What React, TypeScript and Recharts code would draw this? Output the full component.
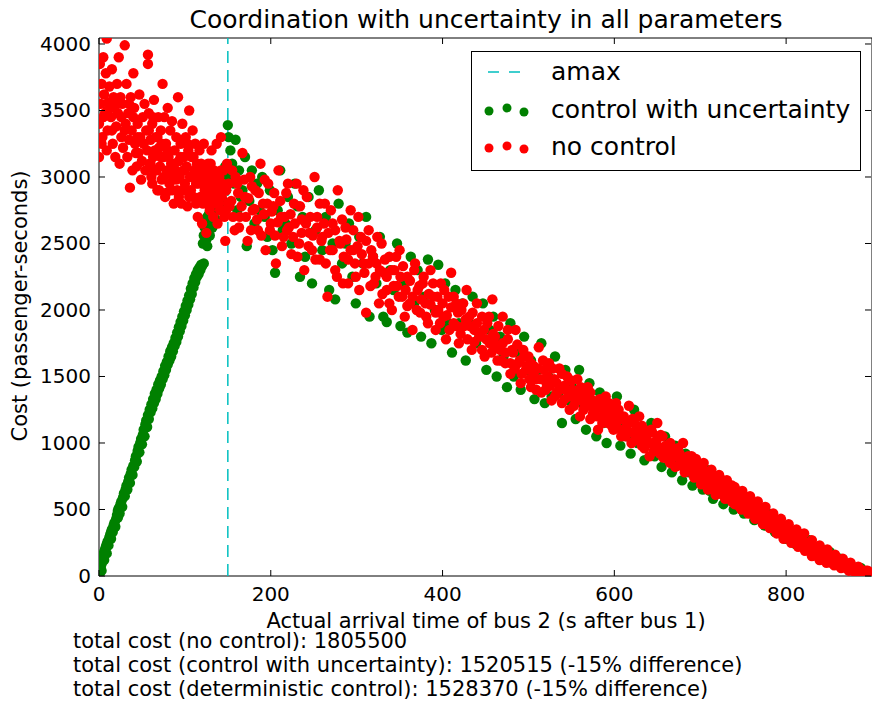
import React from 'react';
import { ScatterChart, Scatter, XAxis, YAxis, ReferenceLine, ReferenceArea } from 'recharts';

// plot box as it sits in the 872x704 picture
const W = 872;
const H = 704;
const PLOT = { left: 99, right: 872, top: 38, bottom: 576 };
const X_MAX = 900;
const Y_MAX = 4045;

const xTicks = [0, 200, 400, 600, 800];
const yTicks = [0, 500, 1000, 1500, 2000, 2500, 3000, 3500, 4000];
const amax = 150;

const totals = [
  'total cost (no control): 1805500',
  'total cost (control with uncertainty): 1520515 (-15% difference)',
  'total cost (deterministic control): 1528370 (-15% difference)',
];

// control with uncertainty: early buses held back (ramp), later ones follow the band
const controlRamp: [number, number][] = [
  [0, 0], [1, 30], [2, 60], [3, 90], [4, 130], [5, 160], [6, 180], [7, 200], [8, 220], [9, 240],
  [10, 260], [12, 290], [13, 310], [14, 330], [15, 350], [17, 380], [18, 400], [20, 430], [21, 460],
  [22, 490], [23, 510], [25, 540], [26, 560], [28, 590], [29, 620], [31, 650], [32, 680], [34, 710],
  [35, 740], [37, 770], [38, 800], [40, 830], [42, 870], [43, 900], [45, 940], [46, 970], [48, 1000],
  [49, 1030], [51, 1060], [52, 1100], [54, 1140], [55, 1170], [57, 1210], [59, 1250], [61, 1290],
  [63, 1330], [65, 1370], [67, 1400], [69, 1440], [71, 1470], [73, 1500], [75, 1540], [77, 1580],
  [79, 1610], [81, 1650], [83, 1690], [85, 1720], [87, 1750], [89, 1790], [91, 1830], [93, 1870],
  [95, 1910], [97, 1950], [99, 1990], [101, 2030], [103, 2070], [105, 2110], [107, 2160], [109, 2200],
  [111, 2240], [113, 2270], [115, 2300], [117, 2320], [119, 2340], [121, 2500], [122, 2560], [123, 2620],
  [124, 2680], [125, 2530], [127, 2600], [128, 2720], [130, 2650], [131, 2780], [133, 2700], [135, 2820],
  [137, 2880], [139, 2920], [141, 2960], [143, 3000], [145, 3040], [147, 3080],
  [3, 40], [6, 120], [9, 170], [11, 230], [14, 280], [16, 330], [19, 370], [22, 440], [24, 470],
  [27, 520], [30, 600], [33, 650], [36, 700], [39, 760], [41, 820], [44, 860], [47, 930], [50, 990],
  [53, 1050], [56, 1120], [58, 1180], [60, 1230], [62, 1260], [64, 1300], [66, 1330], [68, 1370],
  [70, 1410], [72, 1440], [74, 1480], [76, 1510], [78, 1550], [80, 1590], [82, 1620], [84, 1650],
  [86, 1690], [88, 1730], [90, 1760], [92, 1800], [94, 1840], [96, 1880], [98, 1920], [100, 1960],
  [102, 2000], [104, 2040], [106, 2080], [108, 2120], [110, 2170], [112, 2210], [114, 2250], [116, 2270],
  [118, 2300], [120, 2330], [122, 2350], [126, 2480], [126, 2700], [129, 2560], [132, 2620], [134, 2760],
  [136, 2680], [138, 2800], [140, 2760], [142, 2880], [144, 2820], [146, 2950], [148, 2900], [150, 3000],
];

const controlBand: [number, number][] = [
  [150, 3390], [151, 3300], [153, 3200], [155, 3100], [157, 2950], [159, 3280], [161, 2750], [163, 3050],
  [165, 2850], [167, 2900], [170, 3150], [172, 2480], [175, 2820], [178, 3050], [181, 2650], [184, 2950],
  [187, 2750], [190, 3000], [193, 2700], [196, 2550], [199, 2900], [202, 2450], [205, 2280], [208, 2750],
  [211, 3050], [214, 2600], [217, 2650], [220, 2850], [224, 2500], [228, 2950], [231, 2780], [234, 2250],
  [237, 2700], [240, 2400], [244, 2850], [248, 2200], [252, 2600], [256, 2900], [260, 2450], [264, 2700],
  [268, 2150], [272, 2500], [275, 2080], [279, 2800], [283, 2350], [287, 2500], [291, 2650], [295, 2250],
  [299, 2050], [303, 2550], [307, 2350], [311, 2700], [315, 1950], [319, 2400], [323, 2200], [327, 2550],
  [331, 1950], [335, 1910], [339, 2300], [343, 2150], [347, 2500], [351, 1880], [355, 2200], [359, 1830],
  [363, 2400], [367, 2050], [371, 2300], [375, 1800], [379, 2100], [383, 2380], [387, 1750], [391, 2000],
  [395, 2340], [399, 1850], [403, 2200], [407, 1900], [411, 1680], [415, 2150], [419, 1900], [423, 2050],
  [427, 1620], [431, 1900], [435, 2100], [439, 1750], [443, 1800], [447, 2050], [451, 1550], [455, 1850],
  [459, 1950], [463, 1500], [467, 1800], [471, 1650], [475, 1420], [479, 1900], [483, 1500], [487, 1680],
  [491, 1400], [495, 1800], [499, 1550], [503, 1620], [507, 1330], [511, 1550], [515, 1750], [519, 1300],
  [523, 1500], [527, 1350], [531, 1650], [535, 1380], [539, 1150], [543, 1550], [547, 1320], [551, 1420],
  [555, 1180], [559, 1550], [563, 1300], [567, 1100], [571, 1450], [575, 1280], [579, 1050], [583, 1380],
  [587, 1150], [591, 1000], [595, 1250], [599, 1150], [603, 1350], [607, 980], [611, 1150], [615, 1050],
  [619, 920], [623, 1250], [627, 1000], [631, 1100], [635, 870], [639, 1000], [643, 1150], [647, 900],
  [651, 950], [655, 820], [659, 1050], [663, 900], [667, 780], [671, 980], [675, 850], [679, 720],
  [683, 920], [687, 780], [691, 680], [695, 850], [699, 720], [703, 650], [707, 800], [711, 640],
  [715, 580], [719, 720], [723, 620], [727, 540], [731, 680], [735, 580], [739, 500], [743, 640],
  [747, 540], [751, 470], [755, 580], [759, 480], [763, 420], [767, 530], [771, 440], [775, 380],
  [779, 470], [783, 380], [787, 330], [791, 420], [795, 330], [799, 280], [803, 360], [807, 290],
  [811, 240], [815, 320], [819, 250], [823, 200], [827, 270], [831, 200], [835, 160], [839, 220],
  [843, 160], [847, 120], [851, 180], [855, 120], [859, 90], [863, 130], [867, 80], [871, 60],
  [875, 90], [879, 50], [883, 40], [887, 60], [891, 25], [895, 30], [899, 10],
];

// no control: the early cloud up to amax, then the same band
const noControlEarly: [number, number][] = [
  [0, 3150], [0, 3400], [1, 3850], [2, 3550], [3, 3700], [4, 3300], [5, 3900], [6, 3620], [7, 3480],
  [8, 3780], [9, 4040], [9, 3200], [10, 3350], [11, 3560], [12, 3680], [14, 3450], [15, 3810], [16, 3250],
  [17, 3600], [18, 3520], [19, 3150], [20, 3380], [21, 3700], [22, 3480], [23, 3900], [24, 3100],
  [25, 3600], [26, 3300], [27, 3550], [28, 3220], [30, 3990], [31, 3400], [32, 3700], [33, 3150],
  [34, 3480], [35, 3280], [36, 2920], [37, 3600], [38, 3350], [39, 3050], [40, 3780], [41, 3520],
  [42, 3250], [43, 3180], [44, 3080], [45, 3400], [46, 3180], [47, 3620], [48, 3300], [49, 2980],
  [50, 3120], [51, 3450], [52, 3250], [53, 3550], [54, 3050], [55, 3350], [56, 3200], [57, 3920],
  [57, 3850], [58, 3480], [59, 3100], [60, 3280], [61, 3000], [62, 3400], [63, 3150], [64, 3580],
  [65, 3050], [66, 3300], [67, 3180], [68, 2900], [69, 3450], [70, 3220], [71, 3080], [72, 3350],
  [73, 2980], [74, 3700], [75, 3150], [76, 3450], [77, 2850], [78, 3250], [79, 3050], [80, 3520],
  [81, 3150], [82, 2950], [83, 3350], [84, 3100], [85, 3420], [86, 3000], [87, 2800], [88, 3200],
  [89, 3050], [90, 3300], [91, 2900], [92, 3600], [93, 3120], [94, 3000], [95, 3250], [96, 2800],
  [97, 3400], [98, 3050], [99, 3150], [100, 2950], [101, 3300], [102, 3080], [103, 2780], [104, 3200],
  [105, 3500], [106, 3000], [107, 2900], [108, 3150], [109, 3350], [110, 2850], [111, 3050], [112, 3250],
  [113, 2950], [114, 3100], [115, 2700], [116, 3000], [117, 3200], [118, 2850], [119, 3100], [120, 2650],
  [121, 3000], [122, 3250], [123, 2900], [124, 3050], [125, 2580], [126, 2800], [127, 3100], [128, 2950],
  [129, 2750], [130, 3000], [131, 3200], [132, 2850], [133, 2700], [134, 3050], [135, 2950], [136, 2800],
  [137, 3250], [138, 2650], [139, 2900], [140, 3000], [141, 2750], [142, 3300], [143, 2850], [144, 2950],
  [145, 3050], [146, 2700], [147, 2520], [148, 2900], [149, 3100], [150, 2800],
  [60, 3100], [62, 2950], [65, 3200], [67, 3050], [70, 2900], [72, 3150], [75, 3000], [78, 2880],
  [80, 3200], [83, 3050], [85, 2900], [88, 3100], [90, 2980], [93, 2850], [95, 3150], [98, 2900],
  [100, 3050], [103, 3250], [105, 2850], [108, 3000], [110, 3150], [113, 2800], [116, 2950], [118, 3050],
  [121, 2800], [124, 2950], [127, 2850], [130, 3100], [133, 2900], [136, 3000], [139, 2800], [142, 3050],
  [145, 2900], [148, 2750], [58, 3350], [63, 3450], [68, 3300], [73, 3250], [45, 3300], [40, 3450],
  [35, 3550], [30, 3350], [26, 3450], [20, 3550], [15, 3350], [10, 3500], [5, 3450], [3, 3250],
];

const noControlBand: [number, number][] = [
  [152, 2780], [155, 3050], [158, 2600], [161, 2950], [164, 2700], [167, 3180], [170, 2850], [173, 2520],
  [176, 3000], [179, 2750], [182, 2900], [185, 2600], [188, 3100], [191, 2800], [194, 2450], [197, 2950],
  [200, 2650], [203, 2780], [206, 2350], [209, 3050], [212, 2700], [215, 2550], [218, 2880], [221, 2620],
  [224, 2420], [227, 2800], [230, 2950], [233, 2500], [236, 2680], [239, 2300], [242, 2850], [245, 2580],
  [248, 2450], [251, 3000], [254, 2700], [257, 2380], [260, 2550], [263, 2800], [266, 2100], [269, 2450],
  [272, 2650], [275, 2300], [278, 2900], [281, 2500], [284, 2200], [287, 2620], [290, 2380], [293, 2750],
  [296, 2450], [299, 2250], [302, 2700], [305, 2550], [308, 2350], [311, 1980], [314, 2600], [317, 2450],
  [320, 2200], [323, 2350], [326, 2050], [329, 2500], [332, 2280], [335, 2150], [338, 2400], [341, 2000],
  [344, 2300], [347, 2180], [350, 2450], [353, 2100], [356, 1950], [359, 2250], [362, 2050], [365, 1850],
  [368, 2350], [371, 2150], [374, 1980], [377, 2200], [380, 2050], [383, 1900], [386, 2300], [389, 2100],
  [392, 1850], [395, 2000], [398, 2200], [401, 1950], [404, 1780], [407, 2100], [410, 2280], [413, 1900],
  [416, 2050], [419, 1750], [422, 2000], [425, 1880], [428, 2150], [431, 1950], [434, 1700], [437, 1850],
  [440, 2050], [443, 1800], [446, 1950], [449, 1650], [452, 1900], [455, 1750], [458, 2080], [461, 1800],
  [464, 1620], [467, 1700], [470, 1950], [473, 1600], [476, 1780], [479, 1520], [482, 1680], [485, 1850],
  [488, 1600], [491, 1450], [494, 1700], [497, 1550], [500, 1650], [503, 1420], [506, 1580], [509, 1480],
  [512, 1720], [515, 1380], [518, 1550], [521, 1450], [524, 1600], [527, 1320], [530, 1480], [533, 1380],
  [536, 1560], [539, 1300], [542, 1430], [545, 1500], [548, 1250], [551, 1400], [554, 1330], [557, 1480],
  [560, 1200], [563, 1380], [566, 1280], [569, 1420], [572, 1180], [575, 1320], [578, 1250], [581, 1100],
  [584, 1300], [587, 1200], [590, 1350], [593, 1150], [596, 1250], [599, 1100], [602, 1300], [605, 1180],
  [608, 1050], [611, 1200], [614, 1120], [617, 1280], [620, 1000], [623, 1150], [626, 1060], [629, 1200],
  [632, 980], [635, 1100], [638, 1020], [641, 900], [644, 1080], [647, 1000], [650, 1150], [653, 920],
  [656, 1050], [659, 960], [662, 880], [665, 1000], [668, 930], [671, 820], [674, 960], [677, 880],
  [680, 1000], [683, 800], [686, 900], [689, 840], [692, 760], [695, 880], [698, 800], [701, 720],
  [704, 850], [707, 760], [710, 680], [713, 800], [716, 730], [719, 640], [722, 760], [725, 680],
  [728, 600], [731, 720], [734, 640], [737, 560], [740, 670], [743, 600], [746, 520], [749, 640],
  [752, 570], [755, 500], [758, 600], [761, 520], [764, 450], [767, 560], [770, 480], [773, 420],
  [776, 520], [779, 440], [782, 380], [785, 470], [788, 400], [791, 340], [794, 430], [797, 360],
  [800, 300], [803, 390], [806, 330], [809, 270], [812, 350], [815, 290], [818, 240], [821, 320],
  [824, 250], [827, 200], [830, 270], [833, 220], [836, 170], [839, 230], [842, 180], [845, 140],
  [848, 200], [851, 150], [854, 110], [857, 160], [860, 120], [863, 90], [866, 130], [869, 90],
  [872, 60], [875, 100], [878, 60], [881, 40], [884, 70], [887, 40], [890, 20], [893, 40], [896, 15], [899, 5],
];

// second pass through the band, denser in its middle
const noControlCore: [number, number][] = [
  [151, 2950], [154, 2820], [156, 2700], [159, 3000], [162, 2880], [163, 2620], [166, 2780], [169, 2980],
  [171, 2700], [174, 2840], [177, 2600], [178, 2930], [181, 2760], [184, 2680], [186, 2880], [189, 2560],
  [192, 2720], [193, 2980], [196, 2800], [199, 2600], [201, 2740], [204, 2880], [205, 2560], [208, 2660],
  [211, 2820], [213, 2480], [216, 2700], [219, 2600], [220, 2950], [223, 2720], [226, 2550], [228, 2650],
  [231, 2400], [234, 2780], [236, 2580], [238, 2900], [241, 2650], [244, 2480], [246, 2700], [249, 2560],
  [252, 2380], [254, 2620], [257, 2800], [259, 2520], [262, 2650], [264, 2350], [267, 2580], [270, 2750],
  [272, 2450], [275, 2600], [277, 2250], [280, 2520], [283, 2680], [285, 2400], [288, 2530], [290, 2200],
  [293, 2450], [296, 2600], [298, 2350], [301, 2480], [303, 2150], [306, 2420], [309, 2280], [311, 2520],
  [314, 2350], [316, 2180], [319, 2400], [322, 2250], [324, 2550], [327, 2300], [330, 2120], [333, 2380],
  [335, 2250], [338, 2050], [341, 2300], [343, 2180], [346, 2400], [349, 2100], [351, 2250], [354, 2330],
  [357, 2150], [359, 2030], [362, 2220], [365, 2100], [367, 2300], [370, 2000], [373, 2180], [375, 2080],
  [378, 2250], [381, 1950], [384, 2120], [386, 2040], [389, 2200], [392, 1980], [394, 2100], [397, 1900],
  [400, 2050], [402, 2150], [405, 1960], [408, 1850], [410, 2020], [413, 2100], [416, 1880], [418, 1980],
  [421, 1820], [424, 2050], [427, 1930], [429, 1780], [432, 1880], [435, 1980], [437, 1760], [440, 1900],
  [443, 1820], [446, 1700], [448, 1850], [451, 1780], [454, 1950], [457, 1680], [459, 1820], [462, 1740],
  [465, 1880], [468, 1620], [470, 1750], [473, 1680], [476, 1850], [479, 1600], [481, 1700], [484, 1560],
  [487, 1740], [490, 1620], [492, 1520], [495, 1650], [498, 1580], [501, 1480], [503, 1600], [506, 1520],
  [509, 1400], [511, 1560], [514, 1480], [517, 1620], [520, 1400], [522, 1500], [525, 1430], [528, 1560],
  [531, 1350], [533, 1450], [536, 1400], [539, 1520], [542, 1330], [544, 1400], [547, 1350], [550, 1470],
  [553, 1280], [555, 1380], [558, 1320], [561, 1420], [564, 1250], [566, 1340], [569, 1280], [572, 1380],
  [575, 1220], [577, 1300], [580, 1200], [583, 1330], [586, 1150], [588, 1250], [591, 1200], [594, 1300],
  [597, 1130], [599, 1200], [602, 1150], [605, 1250], [608, 1100], [610, 1180], [613, 1050], [616, 1150],
  [619, 1080], [621, 1180], [624, 1020], [627, 1100], [630, 1040], [632, 1130], [635, 960], [638, 1060],
  [641, 1000], [643, 1100], [646, 940], [649, 1020], [652, 970], [654, 1060], [657, 890], [660, 980],
  [663, 920], [665, 850], [668, 960], [671, 900], [674, 830], [676, 920], [679, 860], [682, 780],
  [685, 860], [687, 810], [690, 900], [693, 740], [696, 830], [698, 770], [701, 690], [704, 790],
  [707, 720], [709, 650], [712, 760], [715, 680], [718, 610], [720, 700], [723, 640], [726, 720],
  [729, 580], [731, 650], [734, 600], [737, 680], [740, 540], [742, 610], [745, 560], [748, 500],
  [751, 600], [753, 530], [756, 470], [759, 560], [762, 490], [764, 430], [767, 510], [770, 450],
  [773, 390], [775, 470], [778, 410], [781, 360], [784, 430], [786, 370], [789, 320], [792, 390],
  [795, 320], [797, 280], [800, 350], [803, 300], [806, 250], [808, 320], [811, 270], [814, 220],
  [817, 280], [819, 230], [822, 190], [825, 240], [828, 190], [830, 150], [833, 200], [836, 150],
  [839, 120], [841, 170], [844, 130], [847, 100], [850, 150], [853, 100], [856, 80], [858, 120],
  [861, 80], [864, 60], [867, 100], [870, 60], [873, 40], [876, 70], [879, 35], [882, 55], [885, 25],
  [888, 45], [892, 15], [895, 40], [898, 20],
];

const toPoints = (pts: [number, number][]) => pts.map(([x, y]) => ({ x, y }));
const controlData = toPoints([...controlRamp, ...controlBand]);
const noControlData = toPoints([...noControlEarly, ...noControlBand, ...noControlCore]);

const TICK_LEN = 6;
const DOT_R = 5.2;
const FONT = 'DejaVu Sans, sans-serif';

const dot = (color: string) => (p: any) => <circle cx={p.cx} cy={p.cy} r={DOT_R} fill={color} />;

const XTick = ({ x, payload }: any) => (
  <g>
    <line x1={x} x2={x} y1={PLOT.bottom} y2={PLOT.bottom - TICK_LEN} stroke="#000" />
    <line x1={x} x2={x} y1={PLOT.top} y2={PLOT.top + TICK_LEN} stroke="#000" />
    <text x={x} y={601} textAnchor="middle" fontSize={20} fontFamily={FONT} fill="#000">
      {payload.value}
    </text>
  </g>
);

const YTick = ({ y, payload }: any) => (
  <g>
    <line x1={PLOT.left} x2={PLOT.left + TICK_LEN} y1={y} y2={y} stroke="#000" />
    <line x1={PLOT.right - 1} x2={PLOT.right - 1 - TICK_LEN} y1={y} y2={y} stroke="#000" />
    <text x={91} y={y + 7} textAnchor="end" fontSize={20} fontFamily={FONT} fill="#000">
      {payload.value}
    </text>
  </g>
);

const App = () => {
  return (
    <div style={{ position: 'absolute', left: 0, top: 0, width: W, height: H, background: '#fff' }}>
      <ScatterChart
        width={W}
        height={H}
        margin={{ top: PLOT.top, right: W - PLOT.right, bottom: H - PLOT.bottom - 30, left: PLOT.left - 60 }}
      >
        <XAxis
          type="number"
          dataKey="x"
          domain={[0, X_MAX]}
          ticks={xTicks}
          interval={0}
          allowDataOverflow
          axisLine={false}
          tickLine={false}
          tickSize={0}
          height={30}
          tick={<XTick />}
        />
        <YAxis
          type="number"
          dataKey="y"
          domain={[0, Y_MAX]}
          ticks={yTicks}
          interval={0}
          allowDataOverflow
          axisLine={false}
          tickLine={false}
          tickSize={0}
          width={60}
          tick={<YTick />}
        />
        <ReferenceLine x={amax} stroke="#00bfbf" strokeWidth={1.5} strokeDasharray="12 7" />
        <Scatter
          name="control with uncertainty"
          data={controlData}
          fill="#008000"
          shape={dot('#008000')}
          isAnimationActive={false}
        />
        <Scatter name="no control" data={noControlData} fill="#ff0000" shape={dot('#ff0000')} isAnimationActive={false} />
        <ReferenceArea x1={0} x2={X_MAX} y1={0} y2={Y_MAX} fill="none" stroke="#000" strokeWidth={1} />
      </ScatterChart>

      <svg
        width={W}
        height={H}
        style={{ position: 'absolute', left: 0, top: 0, pointerEvents: 'none' }}
        fontFamily={FONT}
      >
        <text x={486} y={28} textAnchor="middle" fontSize={25} fill="#000">
          Coordination with uncertainty in all parameters
        </text>
        <text x={486} y={628} textAnchor="middle" fontSize={21} fill="#000">
          Actual arrival time of bus 2 (s after bus 1)
        </text>
        <text transform="translate(27,306) rotate(-90)" textAnchor="middle" fontSize={21} fill="#000">
          Cost (passenger-seconds)
        </text>
        {totals.map((t, i) => (
          <text key={i} x={73} y={648 + i * 24} fontSize={21} fill="#000">
            {t}
          </text>
        ))}

        <rect x={471.5} y={51.5} width={389} height={119} fill="#fff" stroke="#000" strokeWidth={1} />
        <line x1={488} x2={522} y1={72} y2={72} stroke="#00bfbf" strokeWidth={1.5} strokeDasharray="11 10" />
        <text x={551} y={80} fontSize={25} fill="#000">amax</text>
        {[[489, 111], [507, 108], [524, 112]].map(([cx, cy], i) => (
          <circle key={`g${i}`} cx={cx} cy={cy} r={4.5} fill="#008000" />
        ))}
        <text x={551} y={118} fontSize={25} fill="#000">control with uncertainty</text>
        {[[489, 148], [507, 146], [524, 149]].map(([cx, cy], i) => (
          <circle key={`r${i}`} cx={cx} cy={cy} r={4.5} fill="#ff0000" />
        ))}
        <text x={551} y={155} fontSize={25} fill="#000">no control</text>
      </svg>
    </div>
  );
};

export default App;
